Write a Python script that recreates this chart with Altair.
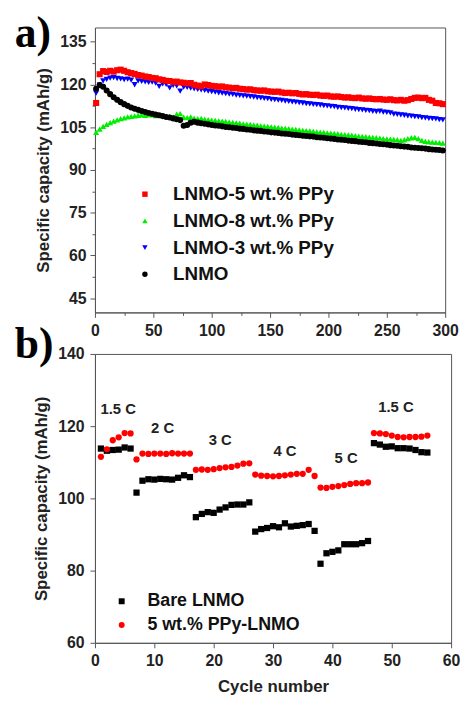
import altair as alt
import pandas as pd

# ---------------- panel a: cycling at fixed rate ----------------
cycles_a = list(range(1, 300, 3))

lnmo5 = [113.5, 123.6, 124.7, 124.4, 124.8, 124.5, 125.0, 125.2, 124.8, 124.3,
         124.0, 123.7, 123.3, 123.1, 122.8, 122.6, 122.3, 122.2, 121.8, 121.6,
         121.3, 121.2, 120.9, 121.0, 120.7, 120.6, 120.4, 120.5, 119.9, 119.6,
         119.4, 120.0, 119.8, 119.5, 119.4, 119.2, 119.3, 119.0, 118.9, 118.7,
         118.8, 118.5, 118.4, 118.2, 118.3, 118.0, 117.9, 117.8, 117.9, 117.6,
         117.5, 117.4, 117.5, 117.2, 117.0, 117.1, 116.9, 117.0, 116.7, 116.5,
         116.6, 116.4, 116.3, 116.4, 116.1, 116.0, 116.1, 115.8, 115.7, 115.8,
         115.6, 115.4, 115.5, 115.3, 115.2, 115.4, 115.1, 115.0, 115.1, 114.9,
         114.8, 114.9, 114.7, 114.6, 114.8, 114.5, 114.4, 114.6, 114.3, 114.5,
         114.9, 115.3, 115.4, 115.2, 115.3, 114.6, 114.3, 113.5, 113.4, 113.1]

lnmo8 = [103.2, 104.3, 105.3, 106.0, 106.6, 107.1, 107.6, 108.0, 108.3, 108.6,
         108.8, 109.0, 109.2, 109.3, 109.2, 109.4, 109.3, 109.1, 109.2, 109.0,
         108.9, 108.8, 108.6, 109.6, 109.8, 108.5, 108.4, 108.6, 108.2, 108.0,
         108.1, 107.8, 107.7, 107.5, 107.4, 107.2, 107.1, 107.0, 106.8, 106.7,
         106.5, 106.4, 106.2, 106.1, 106.0, 105.8, 105.7, 105.5, 105.4, 105.3,
         105.1, 105.0, 104.9, 104.7, 104.6, 104.5, 104.3, 104.2, 104.1, 103.9,
         103.8, 103.7, 103.5, 103.4, 103.3, 103.2, 103.0, 102.9, 102.8, 102.7,
         102.5, 102.4, 102.3, 102.2, 102.0, 101.9, 101.8, 101.7, 101.5, 101.4,
         101.3, 101.2, 101.0, 100.9, 100.8, 100.7, 100.6, 100.4, 100.6, 101.0,
         101.3, 101.4, 101.0, 100.4, 100.0, 99.9, 99.8, 99.7, 99.6, 99.4]

lnmo3 = [117.0, 119.8, 121.3, 121.8, 122.2, 122.4, 122.1, 122.0, 121.7, 121.9,
         121.5, 119.9, 121.3, 121.1, 120.9, 120.7, 120.8, 120.5, 119.3, 120.2,
         120.0, 118.8, 119.7, 119.5, 117.7, 119.1, 119.0, 118.7, 118.5, 118.3,
         118.1, 117.9, 117.7, 117.5, 117.3, 117.1, 117.0, 116.8, 116.6, 116.5,
         116.3, 116.2, 116.0, 115.9, 115.7, 115.6, 115.4, 115.3, 115.1, 115.0,
         114.8, 114.7, 114.5, 114.4, 114.2, 114.1, 113.9, 113.8, 113.6, 113.5,
         113.3, 113.2, 113.0, 112.9, 112.8, 112.6, 112.5, 112.3, 112.2, 112.0,
         111.9, 111.8, 111.6, 111.5, 111.3, 111.2, 111.1, 110.9, 110.8, 110.6,
         110.5, 110.6, 110.3, 110.2, 110.0, 109.6, 109.5, 109.3, 109.2, 109.0,
         108.9, 108.7, 108.6, 108.4, 108.3, 108.1, 108.0, 107.9, 107.7, 107.6]

lnmo = [118.5, 119.8, 119.2, 117.9, 116.6, 115.5, 114.6, 113.8, 113.1, 112.5,
        111.9, 111.5, 111.1, 110.7, 110.3, 110.0, 109.7, 109.4, 109.2, 108.9,
        108.6, 108.4, 108.1, 107.8, 107.5, 105.5, 105.8, 106.6, 106.9, 106.6,
        106.4, 106.2, 106.0, 105.8, 105.6, 105.5, 105.3, 105.1, 105.0, 104.8,
        104.7, 104.5, 104.4, 104.2, 104.1, 103.9, 103.8, 103.7, 103.5, 103.4,
        103.2, 103.1, 103.0, 102.8, 102.7, 102.6, 102.4, 102.3, 102.2, 102.0,
        101.9, 101.8, 101.7, 101.5, 101.4, 101.3, 101.1, 101.0, 100.9, 100.7,
        100.6, 100.5, 100.3, 100.2, 100.1, 99.9, 99.8, 99.7, 99.5, 99.4,
        99.3, 99.1, 99.0, 98.9, 98.7, 98.6, 98.5, 98.3, 98.2, 98.1,
        97.9, 97.8, 97.7, 97.6, 97.5, 97.3, 97.2, 97.1, 97.0, 96.8]

names_a = ["LNMO-5 wt.% PPy", "LNMO-8 wt.% PPy", "LNMO-3 wt.% PPy", "LNMO"]
colors_a = ["#ff0000", "#00ee00", "#0000ff", "#000000"]
shapes_a = ["square", "triangle-up", "triangle-down", "circle"]

xa_ticks = [0, 25, 50, 75, 100, 125, 150, 175, 200, 225, 250, 275, 300]
ya_ticks = [45, 52.5, 60, 67.5, 75, 82.5, 90, 97.5, 105, 112.5, 120, 127.5, 135]

# ---------------- panel b: rate capability ----------------
cycles_b = list(range(1, 57))
bare = [113.8, 113.2, 113.4, 113.5, 114.1, 113.8,
        101.6, 104.9, 105.3, 105.2, 105.4, 105.3, 105.2, 105.7, 106.4, 105.9,
        94.8, 95.7, 96.2, 96.0, 96.9, 97.5, 98.2, 98.3, 98.3, 98.9,
        90.8, 91.5, 91.8, 92.3, 92.0, 93.1, 92.2, 92.4, 92.6, 92.9, 91.0,
        81.9, 84.8, 85.2, 85.6, 87.3, 87.3, 87.3, 87.6, 88.2,
        115.3, 114.9, 114.3, 114.4, 113.9, 113.9, 113.8, 113.4, 112.8, 112.7]
ppy5 = [111.5, 113.6, 116.1, 116.9, 118.1, 118.0,
        110.8, 112.4, 112.3, 112.4, 112.4, 112.3, 112.5, 112.4, 112.4, 112.4,
        107.9, 108.0, 107.9, 108.1, 108.4, 108.6, 108.7, 109.1, 109.6, 109.7,
        106.6, 106.3, 106.2, 106.1, 106.2, 106.4, 106.6, 106.8, 106.8, 107.9, 106.2,
        103.0, 102.9, 103.2, 103.4, 103.7, 104.0, 104.2, 104.2, 104.4,
        118.1, 118.0, 117.8, 117.4, 117.0, 116.9, 117.0, 117.0, 117.1, 117.4]
names_b = ["Bare LNMO", "5 wt.% PPy-LNMO"]
colors_b = ["#000000", "#ff0000"]
shapes_b = ["square", "circle"]

rate_text = ["1.5 C", "2 C", "3 C", "4 C", "5 C", "1.5 C"]
rate_x = [3.9, 11.4, 21.1, 32.0, 42.3, 50.7]
rate_y = [124.8, 119.4, 116.2, 113.2, 111.3, 125.2]

xb_ticks = [0, 5, 10, 15, 20, 25, 30, 35, 40, 45, 50, 55, 60]
yb_ticks = [60, 70, 80, 90, 100, 110, 120, 130, 140]

YTITLE = "Specific capacity (mAh/g)"
FONT = "Liberation Sans"


def tick_size(major):
    return {"condition": {"test": f"datum.value % {major} === 0", "value": 5}, "value": 3}


def label_expr(major):
    return f"datum.value % {major} === 0 ? datum.label : ''"


# ---- build panel a ----
rows = []
for name, vals in [(names_a[1], lnmo8), (names_a[2], lnmo3), (names_a[0], lnmo5), (names_a[3], lnmo)]:
    for c, v in zip(cycles_a, vals):
        rows.append({"cycle": c, "cap": v, "sample": name})
df_a = pd.DataFrame(rows)

leg_a = alt.Legend(orient="none", legendX=41, legendY=159, title=None,
                   labelFont=FONT, labelFontSize=19, labelFontWeight="bold",
                   labelColor="#111", symbolSize=30, rowPadding=7, labelOffset=19,
                   labelLimit=0, symbolStrokeWidth=0)

pts_a = alt.Chart(df_a).mark_point(filled=True, size=38, opacity=1).encode(
    x=alt.X("cycle:Q", scale=alt.Scale(domain=[0, 300], nice=False),
            axis=alt.Axis(values=xa_ticks, labelExpr=label_expr(50), tickSize=tick_size(50),
                          title=None, labelPadding=5)),
    y=alt.Y("cap:Q", scale=alt.Scale(domain=[40, 140], nice=False, zero=False),
            axis=alt.Axis(values=ya_ticks, labelExpr=label_expr(15), tickSize=tick_size(15),
                          title=YTITLE, labelPadding=4, titlePadding=7)),
    color=alt.Color("sample:N", scale=alt.Scale(domain=names_a, range=colors_a), legend=leg_a),
    shape=alt.Shape("sample:N", scale=alt.Scale(domain=names_a, range=shapes_a), legend=leg_a),
)

lab_a = alt.Chart(pd.DataFrame({"lab": ["a)"]})).mark_text(
    font="Liberation Serif", fontSize=44, fontWeight="bold", align="left",
    baseline="alphabetic", color="#000"
).encode(text="lab:N", x=alt.value(-81), y=alt.value(20))

panel_a = alt.layer(pts_a, lab_a).properties(width=354, height=288)

# ---- build panel b ----
rows = []
for name, vals in [(names_b[0], bare), (names_b[1], ppy5)]:
    for c, v in zip(cycles_b, vals):
        rows.append({"cycle": c, "cap": v, "material": name})
df_b = pd.DataFrame(rows)

leg_b = alt.Legend(orient="none", legendX=18, legendY=241, title=None,
                   labelFont=FONT, labelFontSize=18, labelFontWeight="bold",
                   labelColor="#111", symbolSize=36, rowPadding=6, labelOffset=17,
                   labelLimit=0, symbolStrokeWidth=0)

pts_b = alt.Chart(df_b).mark_point(filled=True, size=40, opacity=1).encode(
    x=alt.X("cycle:Q", scale=alt.Scale(domain=[0, 60], nice=False),
            axis=alt.Axis(values=xb_ticks, labelExpr=label_expr(10), tickSize=tick_size(10),
                          title="Cycle number", labelPadding=5, titlePadding=10)),
    y=alt.Y("cap:Q", scale=alt.Scale(domain=[60, 140], nice=False, zero=False),
            axis=alt.Axis(values=yb_ticks, labelExpr=label_expr(20), tickSize=tick_size(20),
                          title=YTITLE, labelPadding=6, titlePadding=7)),
    color=alt.Color("material:N", scale=alt.Scale(domain=names_b, range=colors_b), legend=leg_b),
    shape=alt.Shape("material:N", scale=alt.Scale(domain=names_b, range=shapes_b), legend=leg_b),
)

df_rate = pd.DataFrame({"t": rate_text, "x": rate_x, "y": rate_y})
rate_lab = alt.Chart(df_rate).mark_text(
    font=FONT, fontSize=15, fontWeight="bold", color="#222", align="center", baseline="middle"
).encode(x="x:Q", y="y:Q", text="t:N")

lab_b = alt.Chart(pd.DataFrame({"lab": ["b)"]})).mark_text(
    font="Liberation Serif", fontSize=44, fontWeight="bold", align="left",
    baseline="alphabetic", color="#000"
).encode(text="lab:N", x=alt.value(-81), y=alt.value(4))

panel_b = alt.layer(pts_b, rate_lab, lab_b).properties(width=360, height=292)

chart = alt.VConcatChart(vconcat=[panel_a, panel_b], spacing=42, bounds="flush").resolve_scale(
    color="independent", shape="independent"
).properties(
    padding={"left": 14, "top": 8, "right": 0, "bottom": 0}, background="white"
).configure_view(stroke="#555", strokeWidth=1).configure_axis(
    labelFont=FONT, labelFontWeight="bold", labelFontSize=16, labelColor="#222",
    titleFont=FONT, titleFontWeight="bold", titleFontSize=17, titleColor="#222",
    domainColor="#555", tickColor="#555", grid=False, labelFlush=False
)

chart.save("out.html", embed_options={"renderer": "svg", "actions": False})
